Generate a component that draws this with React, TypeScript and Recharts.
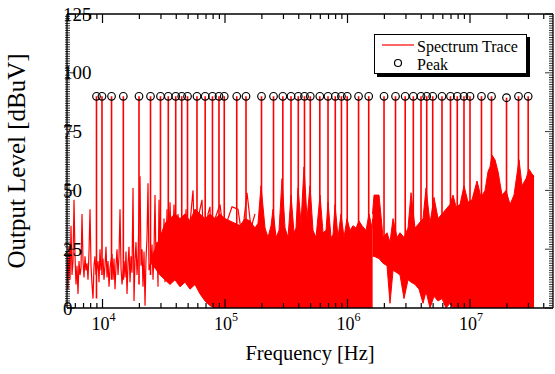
import React from "react"
import { ComposedChart, Area, Line, Scatter, XAxis, YAxis, Legend, Label } from "recharts"

const FONT = "'Liberation Serif', 'Times New Roman', Times, serif"
const RED = "#ff0000"

// low-frequency part of the trace, still readable as a single line
const noiseFreq = [
  5131, 5228, 5328, 5429, 5532, 5637, 5744, 5853, 5964, 6077, 6192, 6310, 6429, 6551, 6676, 6802,
  6931, 7063, 7197, 7334, 7473, 7614, 7759, 7906, 8056, 8209, 8365, 8524, 8685, 8850, 9018, 9189,
  9364, 9541, 9722, 10095, 10286, 10481, 10681, 10883, 11090, 11300, 11515, 11956, 12183, 12414,
  12649, 12889, 13134, 13383, 13637, 13896, 14160, 14428, 14981, 15265, 15555, 15850, 16151, 16457,
  16769, 17088, 17412, 17742, 18079, 18422, 18772, 19128, 19491, 20238, 20622, 21013, 21412, 21818,
  22232, 22654, 23084, 23522, 23968, 24887, 25359, 25840, 26330, 26830, 27339, 27858, 28386, 28925,
  29474, 30033, 30603, 31184, 31776, 32379, 32993, 33619, 34257, 35565, 36928, 38346, 39811, 41336,
  42920, 44566, 46276, 48050, 49884, 51795, 54800, 56899, 60199, 64899, 68665, 72648, 75431, 78321,
  82864, 91030, 98138, 105800, 114063, 127682, 137652, 151217, 163026, 175757,
]
const noiseLevel = [
  22, 8, 26, 12, 35, 14, 20, 46, 22, 10, 18, 6, 20, 14, 17, 40,
  20, 13, 22, 16, 19, 12, 24, 42, 18, 10, 4, 18, 22, 14, 17, 20,
  11, 25, 16, 21, 12, 18, 26, 13, 20, 9, 17, 23, 12, 21,
  8, 18, 25, 14, 22, 42, 17, 10, 20, 13, 24, 6, 19, 26,
  11, 22, 15, 51, 3, 20, 28, 14, 22, 56, 18, 25, 9, 24,
  1, 21, 30, 53, 16, 20, 27, 12, 24, 48, 18, 28, 9, 46,
  22, 14, 30, 19, 38, 11, 25, 42, 16, 45, 20, 44, 18, 40,
  15, 38, 12, 42, 20, 36, 50, 22, 38, 46, 8, 40, 43, 2,
  38, 44, 30, 38, 43, 42, 30, 49, 34, 40,
]

// dense part of the trace below ~1.6 MHz: bottom and top of the red band
const bandFreq = [
  24887, 26830, 29474, 32379, 35570, 39075, 42926, 47156, 51803, 56908, 62516, 68676, 75445,
  82880, 91047, 100020, 109877, 120704, 132600, 145669, 160024, 175795, 185994, 196784,
  212150, 224460, 237483, 246577, 260881, 276017, 292029, 308973, 326896, 345865, 365928,
  379945, 394502, 417387, 441604, 467224, 494331, 523003, 553327, 596581, 631164, 667800,
  693352, 733579, 761697, 790892, 836763, 885303, 936664, 991001, 1048520, 1109322, 1173665,
  1241753, 1313844, 1416413, 1498611, 1585530, 1604000,
]
const bandLow = [
  19, 17, 14, 12, 10, 12, 9, 11, 8, 10, 6, 3, 1,
  0, 0, 0, 0, 0, 0, 0, 0, 0, 0, 0,
  0, 0, 0, 0, 0, 0, 0, 0, 0, 0, 0,
  0, 0, 0, 0, 0, 0, 0, 0, 0, 0, 0,
  0, 0, 0, 0, 0, 0, 0, 0, 0, 0, 0,
  0, 0, 0, 0, 0, 0,
]
const bandHigh = [
  21, 25, 30, 36, 38, 40, 38, 40, 37, 42, 40, 38, 40,
  38, 40, 38, 37, 36, 35, 38, 37, 34, 36, 52,
  34, 30, 35, 42, 30, 33, 55, 34, 30, 48, 32,
  34, 51, 36, 60, 38, 52, 33, 30, 48, 32, 33,
  45, 30, 31, 44, 30, 40, 30, 38, 33, 35, 34,
  37, 35, 33, 40, 34, 38,
]

// dense part of the trace above ~1.6 MHz
const band2Freq = [
  1600000, 1646281, 1808524, 1949729, 2101965, 2223929,
  2352974, 2536715, 2683872, 2893422, 3119391, 3300362, 3558092, 3835936,
  4135483, 4375358, 4717082, 5085437, 5482474, 5910399, 6372189, 6869896, 7268577, 7690343,
  8290670, 8938202, 9636531, 10388736, 11412883, 12303625, 13264661, 14034311, 14572040,
  15130293, 16008207, 16936405, 18259177, 19685082, 21222329, 22879642, 25134204, 26592444,
  28668949, 30332420, 32092352, 33321739,
]
const band2Low = [
  22, 22, 21, 19, 18, 2,
  16, 15, 14, 4, 12, 11, 10, 8,
  2, 7, 0, 5, 3, 4, 0, 2, 0, 0,
  0, 0, 0, 0, 0, 0, 0, 0, 0,
  0, 0, 0, 0, 0, 0, 0, 0, 0,
  0, 0, 0, 0,
]
const band2High = [
  40, 48, 48, 30, 32, 28,
  38, 30, 32, 30, 34, 49, 34, 36,
  38, 51, 36, 47, 38, 40, 42, 44, 48, 43,
  44, 52, 45, 46, 54, 47, 50, 58, 60,
  65, 63, 58, 48, 50, 44, 48, 63, 52,
  55, 59, 57, 56,
]

// marked peaks and where each peak line leaves the noise
const peakFreq = [
  8930, 9900, 11850, 14790, 19860, 24650, 29730, 34440, 39600, 44340, 49430, 59050, 68900,
  79000, 89300, 98600, 124700, 148400, 198600, 248900, 296500, 345800, 396500, 445600,
  496800, 594300, 693400, 794900, 892500, 994800, 1231000, 1490000, 1987000, 2466000,
  2958000, 3446000, 3983000, 4433000, 4962000, 5907000, 6929000, 7873000, 8932000,
  10000000, 12410000, 14990000, 19870000, 24880000, 29850000,
]
const peakLevel = [
  90, 90, 90, 90, 90, 90, 90, 90, 90, 90, 90, 90, 90,
  90, 90, 90, 90, 90, 90, 90, 90, 90, 90, 90,
  90, 90, 90, 90, 90, 90, 90, 90, 90, 90,
  90, 90, 90, 90, 90, 90, 90, 90, 90,
  90, 90, 90, 89.4, 90, 90,
]
const peakFoot = [
  4, 14, 12, 12, 10, 14, 14, 16, 18, 15, 18, 20, 20,
  20, 20, 20, 20, 20, 20, 20, 20, 20, 20, 20,
  20, 20, 20, 20, 20, 20, 20, 20, 20, 20,
  20, 20, 20, 20, 20, 20, 20, 20, 20,
  20, 20, 20, 20, 20, 20,
]

const xMajor = [1e4, 1e5, 1e6, 1e7]
const xMinor = [
  6e3, 7e3, 8e3, 9e3,
  2e4, 3e4, 4e4, 5e4, 6e4, 7e4, 8e4, 9e4,
  2e5, 3e5, 4e5, 5e5, 6e5, 7e5, 8e5, 9e5,
  2e6, 3e6, 4e6, 5e6, 6e6, 7e6, 8e6, 9e6,
  2e7, 3e7, 4e7,
]
const xTicks = [...xMajor, ...xMinor].sort((a, b) => a - b)
const yTicks = Array.from({ length: 126 }, (_, i) => i)

const noiseData = noiseFreq.map((f, i) => ({ f, level: noiseLevel[i] }))
const bandData = bandFreq.map((f, i) => ({ f, level: [bandLow[i], bandHigh[i]] }))
const band2Data = band2Freq.map((f, i) => ({ f, level: [band2Low[i], band2High[i]] }))
const stemData = peakFreq.flatMap((f, i) => [
  { f, level: peakFoot[i] },
  { f, level: peakLevel[i] },
  { f, level: null },
])
const peakData = peakFreq.map((f, i) => ({ f, level: peakLevel[i] }))

const axisLine = { stroke: "#000", strokeWidth: 1.3 }

function FreqTick(props: any) {
  const { x, y, payload, top } = props
  const v = payload.value
  const major = xMajor.includes(v)
  const len = major ? 9 : 5
  const d = top ? 1 : -1
  return (
    <g>
      <line x1={x} x2={x} y1={y} y2={y + d * len} stroke="#000" strokeWidth={1.2} />
      {!top && major && (
        <text x={x + 1} y={y + 22} textAnchor="middle" fill="#000" style={{ fontFamily: FONT, fontSize: 18 }}>
          10
          <tspan dy={-9} style={{ fontSize: 12 }}>
            {Math.round(Math.log10(v))}
          </tspan>
        </text>
      )}
    </g>
  )
}

function LevelTick(props: any) {
  const { x, y, payload, right } = props
  const v = payload.value
  const major = v % 25 === 0
  if (right) {
    return <line x1={x} x2={x - (major ? 8 : 4)} y1={y} y2={y} stroke="#000" strokeWidth={0.8} />
  }
  return (
    <g>
      <line x1={major ? x : x - 2} x2={x + (major ? 8 : 3)} y1={y} y2={y} stroke="#000" strokeWidth={0.8} />
      {major && (
        <text x={x - 4} y={y} dy="0.35em" textAnchor="start" fill="#000" style={{ fontFamily: FONT, fontSize: 19 }}>
          {v}
        </text>
      )}
    </g>
  )
}

function PeakMark(props: any) {
  const { cx, cy } = props
  return <circle cx={cx} cy={cy} r={3.8} fill="none" stroke="#000" strokeWidth={1.2} />
}

function LegendBox() {
  return (
    <div
      style={{
        position: "relative",
        width: 153,
        height: 40,
        boxSizing: "border-box",
        border: "1px solid #000",
        boxShadow: "3px 3px 0 #000",
        background: "#fff",
        fontFamily: FONT,
        fontSize: 16,
        lineHeight: "16px",
        color: "#000",
      }}
    >
      <svg width={34} height={36} style={{ position: "absolute", left: 6, top: 0 }}>
        <line x1={1} x2={33} y1={10} y2={10} stroke={RED} strokeWidth={1.2} />
        <circle cx={17} cy={28} r={3.5} fill="none" stroke="#000" strokeWidth={1.2} />
      </svg>
      <span style={{ position: "absolute", left: 42, top: 4, whiteSpace: "nowrap" }}>Spectrum Trace</span>
      <span style={{ position: "absolute", left: 42, top: 22, whiteSpace: "nowrap" }}>Peak</span>
    </div>
  )
}

export default function App() {
  return (
    <div style={{ position: "absolute", left: 0, top: 0, background: "#fff" }}>
      <ComposedChart width={555} height={374} margin={{ top: 13, right: 1, bottom: 65, left: 66 }}>
        <XAxis
          dataKey="f"
          type="number"
          scale="log"
          domain={[5130, 47600000]}
          allowDataOverflow
          ticks={xTicks}
          interval={0}
          height={1}
          tickSize={0}
          tickMargin={0}
          tickLine={false}
          axisLine={axisLine}
          tick={(p: any) => <FreqTick {...p} />}
        >
          <Label
            content={(p: any) => (
              <text
                x={p.viewBox.x + p.viewBox.width / 2}
                y={p.viewBox.y + 52}
                textAnchor="middle"
                fill="#000"
                style={{ fontFamily: FONT, fontSize: 20.5 }}
              >
                Frequency [Hz]
              </text>
            )}
          />
        </XAxis>
        <XAxis
          xAxisId="top"
          orientation="top"
          dataKey="f"
          type="number"
          scale="log"
          domain={[5130, 47600000]}
          allowDataOverflow
          ticks={xTicks}
          interval={0}
          height={1}
          tickSize={0}
          tickMargin={0}
          tickLine={false}
          axisLine={axisLine}
          tick={(p: any) => <FreqTick {...p} top />}
        />
        <YAxis
          dataKey="level"
          type="number"
          domain={[0, 125]}
          allowDataOverflow
          ticks={yTicks}
          interval={0}
          width={1}
          tickSize={0}
          tickMargin={0}
          tickLine={false}
          axisLine={axisLine}
          tick={(p: any) => <LevelTick {...p} />}
        >
          <Label
            content={(p: any) => {
              const cx = p.viewBox.x + p.viewBox.width - 42
              const cy = p.viewBox.y + p.viewBox.height / 2
              return (
                <text
                  x={cx}
                  y={cy}
                  transform={`rotate(-90 ${cx} ${cy})`}
                  textAnchor="middle"
                  fill="#000"
                  style={{ fontFamily: FONT, fontSize: 25 }}
                >
                  Output Level [dBuV]
                </text>
              )
            }}
          />
        </YAxis>
        <YAxis
          yAxisId="right"
          orientation="right"
          type="number"
          domain={[0, 125]}
          allowDataOverflow
          ticks={yTicks}
          interval={0}
          width={1}
          tickSize={0}
          tickMargin={0}
          tickLine={false}
          axisLine={axisLine}
          tick={(p: any) => <LevelTick {...p} right />}
        />
        <Area
          data={bandData}
          dataKey="level"
          type="linear"
          stroke={RED}
          strokeWidth={1}
          fill={RED}
          fillOpacity={1}
          dot={false}
          activeDot={false}
          isAnimationActive={false}
        />
        <Area
          data={band2Data}
          dataKey="level"
          type="linear"
          stroke={RED}
          strokeWidth={1}
          fill={RED}
          fillOpacity={1}
          dot={false}
          activeDot={false}
          isAnimationActive={false}
        />
        <Line
          data={noiseData}
          dataKey="level"
          type="linear"
          stroke={RED}
          strokeWidth={1.2}
          dot={false}
          activeDot={false}
          isAnimationActive={false}
        />
        <Line
          data={stemData}
          dataKey="level"
          type="linear"
          stroke={RED}
          strokeWidth={1.6}
          dot={false}
          activeDot={false}
          connectNulls={false}
          isAnimationActive={false}
        />
        <Scatter data={peakData} dataKey="level" shape={(p: any) => <PeakMark {...p} />} isAnimationActive={false} />
        <Legend
          layout="horizontal"
          verticalAlign="middle"
          align="center"
          wrapperStyle={{ left: 374, top: 34, right: "auto", bottom: "auto", width: 153, height: 40 }}
          content={() => <LegendBox />}
        />
      </ComposedChart>
    </div>
  )
}
